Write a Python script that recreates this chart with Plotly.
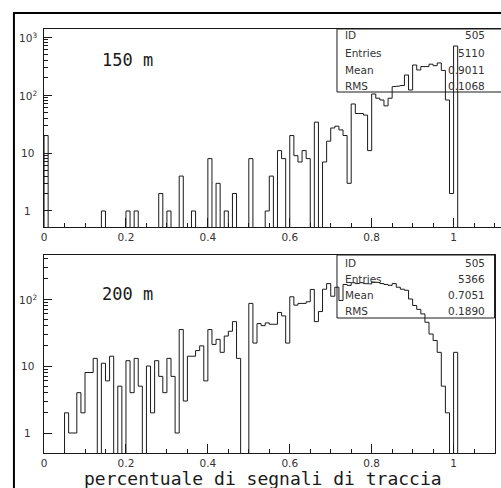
import numpy as np
import plotly.graph_objects as go

W, H = 501, 488
BIN_WIDTH = 0.01
bin_lo = np.round(np.arange(0.0, 1.10, BIN_WIDTH), 2)

# counts per 0.01 bin, 0.00 .. 1.09  (150 m)
counts_150 = [
    20, 0, 0, 0, 0, 0, 0, 0, 0, 0,
    0, 0, 0, 0, 1, 0, 0, 0, 0, 0,
    1, 0, 1, 0, 0, 0, 0, 0, 2, 0,
    1, 0, 0, 4, 0, 0, 1, 0, 0, 0,
    8, 0, 3, 0, 1, 0, 2, 0, 0, 0,
    8, 0, 0, 0, 1, 4, 0, 11, 8, 0,
    20, 9, 7, 11, 8, 0, 34, 0, 7, 16,
    27, 29, 25, 20, 3, 70, 48, 48, 45, 11,
    104, 88, 82, 65, 88, 139, 143, 146, 221, 122,
    329, 270, 309, 309, 340, 320, 357, 265, 82, 2,
    700, 0, 0, 0, 0, 0, 0, 0, 0, 0,
]

# counts per 0.01 bin, 0.00 .. 1.09  (200 m)
counts_200 = [
    0, 0, 0, 0, 0, 2, 1, 1, 4, 2,
    8, 8, 13, 0, 11, 6, 14, 0, 5, 0,
    12, 4, 13, 5, 0, 10, 2, 12, 7, 4,
    13, 7, 1, 35, 3, 14, 14, 17, 20, 6,
    35, 21, 25, 16, 28, 33, 46, 13, 0, 0,
    86, 22, 43, 40, 44, 42, 42, 63, 56, 22,
    108, 81, 86, 86, 91, 139, 46, 65, 140, 170,
    110, 150, 95, 165, 160, 175, 170, 175, 170, 168,
    180, 176, 170, 165, 160, 170, 150, 140, 135, 100,
    80, 70, 60, 45, 30, 24, 16, 5, 2, 0,
    16, 0, 0, 0, 0, 0, 0, 0, 0, 0,
]

titles = ["150 m", "200 m"]
stats_labels = ["ID", "Entries", "Mean", "RMS"]
stats_150 = ["505", "5110", "0.9011", "0.1068"]
stats_200 = ["505", "5366", "0.7051", "0.1890"]
x_label = "percentuale di segnali di traccia"
y_ticks_150 = [1, 10, 100, 1000]
y_ticks_200 = [1, 10, 100]
y_ticktext = {1: "1", 10: "10", 100: "10<sup>2</sup>", 1000: "10<sup>3</sup>"}

FLOOR = 1e-2  # empty bins are drawn down past the axis floor
INK = "#1a1a1a"
TICK_FONT = dict(family="DejaVu Sans", size=10.5, color="#333")


def px_x(p):
    return p / W


def px_y(p):
    return 1 - p / H


def step_path(lo, counts):
    xs, ys = [float(lo[0])], [FLOOR]
    for x0, c in zip(lo, counts):
        v = c if c > 0 else FLOOR
        xs += [float(x0), float(x0) + BIN_WIDTH]
        ys += [v, v]
    xs.append(float(lo[-1]) + BIN_WIDTH)
    ys.append(FLOOR)
    return xs, ys


fig = go.Figure()

panels = [
    dict(counts=counts_150, xa="x", ya="y", top=29, bottom=227, right=501,
         xmax=(501 - 41.3) / 412.0, ylog=(-0.276, 3.138), yt=y_ticks_150,
         stats=stats_150, box=(336, 29, 520, 92), rows=[35, 52.5, 69.5, 86],
         title_y=60, mirror_y=False),
    dict(counts=counts_200, xa="x2", ya="y2", top=255, bottom=453, right=494.5,
         xmax=1.1, ylog=(-0.2985, 2.657), yt=y_ticks_200,
         stats=stats_200, box=(336, 255, 494.5, 318), rows=[263, 279, 295, 311],
         title_y=294, mirror_y=True),
]

annotations = []
shapes = []
for i, p in enumerate(panels):
    xs, ys = step_path(bin_lo, p["counts"])
    fig.add_trace(go.Scatter(x=xs, y=ys, mode="lines", xaxis=p["xa"], yaxis=p["ya"],
                             line=dict(color=INK, width=1), hoverinfo="skip",
                             showlegend=False))
    sfx = "" if i == 0 else "2"
    minor_vals = [m * d for d in [1, 10, 100, 1000] for m in range(2, 10)]
    fig.update_layout(**{
        "xaxis" + sfx: dict(
            domain=[px_x(41.3), px_x(p["right"])], range=[0, p["xmax"]],
            anchor="y" + sfx, showline=True, linecolor=INK, linewidth=1, mirror=True,
            ticks="inside", ticklen=9, tickwidth=1, tickcolor=INK, dtick=0.2, tick0=0,
            minor=dict(ticks="inside", ticklen=4, dtick=0.05, tickcolor=INK),
            showgrid=False, zeroline=False, tickfont=TICK_FONT,
        ),
        "yaxis" + sfx: dict(
            domain=[px_y(p["bottom"]), px_y(p["top"])], type="log", range=list(p["ylog"]),
            anchor="x" + sfx, showline=True, linecolor=INK, linewidth=1, mirror=p["mirror_y"],
            ticks="inside", ticklen=8, tickwidth=1, tickcolor=INK, tickvals=p["yt"],
            showticklabels=False,
            minor=dict(ticks="inside", ticklen=4, tickvals=minor_vals, tickcolor=INK),
            showgrid=False, zeroline=False,
        ),
    })
    for v in p["yt"]:
        annotations.append(dict(x=px_x(25), y=np.log10(v), xref="paper", yref="y" + sfx,
                                text=y_ticktext[v], showarrow=False, xanchor="center",
                                yanchor="middle", font=TICK_FONT))
    # title inside the frame
    annotations.append(dict(x=px_x(125), y=px_y(p["title_y"]), xref="paper", yref="paper",
                            text=titles[i], showarrow=False, xanchor="center", yanchor="middle",
                            font=dict(family="DejaVu Sans Mono", size=17, color=INK)))
    # statistics box
    x0, y0, x1, y1 = p["box"]
    shapes.append(dict(type="rect", xref="paper", yref="paper",
                       x0=px_x(x0), x1=px_x(x1), y0=px_y(y1), y1=px_y(y0),
                       line=dict(color=INK, width=1), fillcolor="rgba(0,0,0,0)"))
    for lab, val, ry in zip(stats_labels, p["stats"], p["rows"]):
        annotations.append(dict(x=px_x(342), y=px_y(ry), xref="paper", yref="paper", text=lab,
                                showarrow=False, xanchor="left", yanchor="middle", font=TICK_FONT))
        annotations.append(dict(x=px_x(487), y=px_y(ry), xref="paper", yref="paper", text=val,
                                showarrow=False, xanchor="right", yanchor="middle", font=TICK_FONT))

annotations.append(dict(x=px_x(262), y=px_y(478), xref="paper", yref="paper", text=x_label,
                        showarrow=False, xanchor="center", yanchor="middle",
                        font=dict(family="DejaVu Sans Mono", size=18, color=INK)))

# outer page frame
shapes.append(dict(type="rect", xref="paper", yref="paper",
                   x0=px_x(11), x1=px_x(540), y0=px_y(520), y1=px_y(13),
                   line=dict(color="black", width=2), fillcolor="rgba(0,0,0,0)"))

fig.update_layout(width=W, height=H, margin=dict(l=0, r=0, t=0, b=0),
                  paper_bgcolor="white", plot_bgcolor="white",
                  annotations=annotations, shapes=shapes, showlegend=False)

fig.write_html("out.html")
